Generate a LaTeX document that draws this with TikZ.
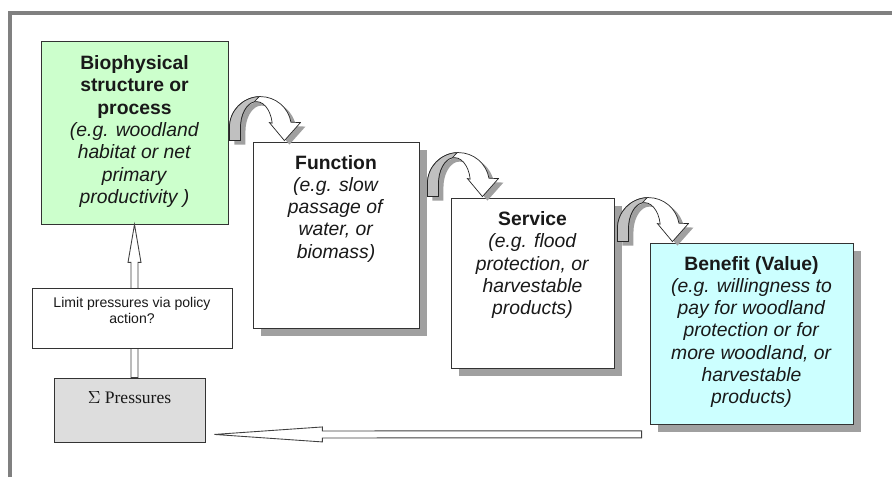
\documentclass[tikz,border=0pt]{standalone}
\usepackage{fontspec}
\setmainfont{Liberation Sans}
\newfontfamily\timesfont{Liberation Serif}
\usetikzlibrary{calc, shadows}

\definecolor{framegray}{HTML}{808080}
\definecolor{biogreen}{HTML}{CCFFCC}
\definecolor{benecyan}{HTML}{CCFFFF}
\definecolor{pressgray}{HTML}{DDDDDD}
\definecolor{shadegray}{HTML}{A0A0A0}
\definecolor{bandgray}{HTML}{C0C0C0}

% text block pinned to the top of a fixed size box
\newcommand{\boxtext}[4]{\parbox[c][#2][t]{#1}{\centering\vspace*{#3}#4}}

\tikzset{
  % curved hand-over arrow between two stages
  turn/.pic={
    \fill[shadegray, shift={(5,4)}] (-31,13) -- (-31,0)
      arc[start angle=180, end angle=350, radius=31] -- (40,-5) -- (24,13) -- (9,-5)
      -- (11.76,-4.51) arc[start angle=350, end angle=180, x radius=16, y radius=26]
      -- (-20,13) -- cycle;
    \draw[black!85, line width=0.4pt, fill=white] (-31,13) -- (-31,0)
      arc[start angle=180, end angle=350, radius=31] -- (40,-5) -- (24,13) -- (9,-5)
      -- (11.76,-4.51) arc[start angle=350, end angle=180, x radius=16, y radius=26]
      -- (-20,13) -- cycle;
    \draw[black!85, line width=0.4pt, fill=bandgray] (-31,13) -- (-31,0)
      arc[start angle=180, end angle=268, radius=31] -- (-6.23,-25.75)
      arc[start angle=262, end angle=180, x radius=16, y radius=26] -- (-20,13) -- cycle;
  }
}

\begin{document}
\begin{tikzpicture}[x=0.02cm, y=-0.02cm,
    panel/.style={draw=black!80, line width=0.5pt, inner sep=0pt, text=black!90,
      font=\fontsize{11}{12.7}\selectfont},
    boxshadow/.style={drop shadow={shadow xshift=0.16cm, shadow yshift=-0.16cm,
      fill=shadegray, opacity=1}},
    hollow/.style={draw=black!75, fill=white, line width=0.5pt, line join=miter}]
  \useasboundingbox (0,0) rectangle (892,477);

  % frame
  \draw[framegray, line width=0.08cm] (10,477) -- (10,12.5) -- (892,12.5);

  % the chain of stages
  \node[panel, fill=biogreen] (bio) at (134.5,132.5)
    {\boxtext{3.74cm}{3.66cm}{0.29cm}{\textbf{Biophysical}\\ \textbf{structure or}\\
      \textbf{process}\\ \textit{(e.g. woodland}\\ \textit{habitat or net}\\
      \textit{primary}\\ \textit{productivity )}}};
  \node[panel, fill=white, boxshadow] (func) at (336,235)
    {\boxtext{3.32cm}{3.72cm}{0.26cm}{\textbf{Function}\\ \textit{(e.g. slow}\\
      \textit{passage of}\\ \textit{water, or}\\ \textit{biomass)}}};
  \node[panel, fill=white, boxshadow] (serv) at (532.5,283)
    {\boxtext{3.26cm}{3.40cm}{0.27cm}{\textbf{Service}\\ \textit{(e.g. flood}\\
      \textit{protection, or}\\ \textit{harvestable}\\ \textit{products)}}};
  \node[panel, fill=benecyan, boxshadow] (bene) at (751.5,333.5)
    {\boxtext{4.06cm}{3.62cm}{0.26cm}{\textbf{Benefit (Value)}\\ \textit{(e.g. willingness to}\\
      \textit{pay for woodland}\\ \textit{protection or for}\\ \textit{more woodland, or}\\
      \textit{harvestable}\\ \textit{products)}}};

  \pic at ($(bio.east |- func.north)+(32,-14)$) {turn};
  \pic at ($(func.east |- serv.north)+(39,-14)$) {turn};
  \pic at ($(serv.east |- bene.north)+(34,-14)$) {turn};

  % pressures and the policy loop
  \node[panel, fill=pressgray, font=\timesfont\fontsize{10}{12}\selectfont] (pres) at (129.5,410)
    {\boxtext{3.02cm}{1.28cm}{0.26cm}{$\Sigma$ Pressures}};
  \draw[hollow] ($(bio.south |- pres.north)+(-3.5,0)$) -- ($(bio.south)+(-3.5,38)$)
    -- ($(bio.south)+(-6.5,38)$) -- (bio.south) -- ($(bio.south)+(6.5,38)$)
    -- ($(bio.south)+(3.5,38)$) -- ($(bio.south |- pres.north)+(3.5,0)$) -- cycle;
  \node[panel, fill=white, font=\fontsize{8}{9.2}\selectfont] (limit) at (132,318)
    {\boxtext{4.0cm}{1.2cm}{0.19cm}{Limit pressures via policy\\ action?}};

  \coordinate (backtail) at ($(bene.south west)+(-8,10)$);
  \coordinate (backtip) at ($(pres.south east)+(9,-8)$);
  \draw[hollow] (backtip) -- ($(backtip)+(108,-7.5)$) -- ($(backtip)+(108,-3.5)$)
    -- ($(backtail)+(0,-3.5)$) -- ($(backtail)+(0,3.5)$) -- ($(backtip)+(108,3.5)$)
    -- ($(backtip)+(108,7.5)$) -- cycle;
\end{tikzpicture}
\end{document}
